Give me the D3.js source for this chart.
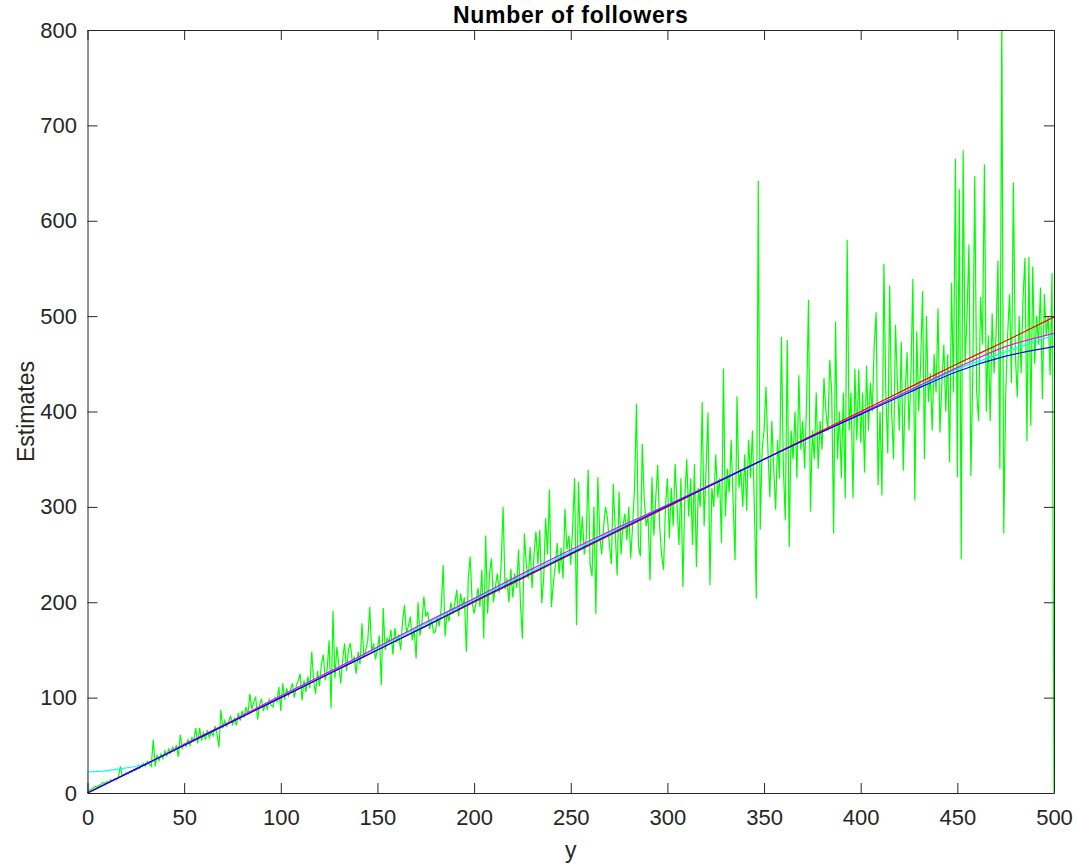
<!DOCTYPE html>
<html>
<head>
<meta charset="utf-8">
<script src="https://cdn.jsdelivr.net/npm/d3@7"></script>
<style>
  body { margin: 0; background: #ffffff; }
  text { font-family: "Liberation Sans", Arial, sans-serif; }
</style>
</head>
<body>
<div id="chart"></div>
<script>
// tick values
var xTicks = [0, 50, 100, 150, 200, 250, 300, 350, 400, 450, 500];
var yTicks = [0, 100, 200, 300, 400, 500, 600, 700, 800];

// green series, one estimate per y = 0..500
var followerEstimates = [
  0, 3, 4, 5, 7, 6, 8, 9, 11, 10,
  12, 11, 14, 13, 15, 14, 17, 28, 18, 19,
  21, 20, 23, 22, 25, 24, 27, 26, 29, 31,
  28, 33, 30, 28, 56, 28, 40, 34, 41, 36,
  44, 39, 46, 42, 48, 44, 50, 38, 61, 47,
  52, 49, 56, 50, 58, 55, 68, 52, 68, 55,
  63, 56, 66, 58, 64, 60, 70, 62, 48, 87,
  68, 76, 70, 74, 81, 72, 78, 71, 84, 76,
  86, 79, 90, 82, 104, 88, 95, 101, 77, 92,
  99, 86, 94, 88, 98, 92, 90, 100, 96, 111,
  86, 115, 98, 110, 102, 108, 115, 100, 112, 118,
  125, 97, 118, 106, 122, 110, 148, 118, 104, 128,
  112, 135, 145, 118, 130, 160, 89, 191, 120, 153,
  135, 115, 140, 157, 128, 150, 157, 138, 142, 125,
  148, 135, 178, 142, 150, 160, 195, 148, 157, 140,
  152, 165, 113, 194, 150, 162, 158, 171, 145, 173,
  158, 166, 150, 180, 197, 168, 175, 185, 160, 172,
  141, 200, 165, 178, 206, 185, 190, 172, 182, 168,
  169, 185, 175, 195, 239, 164, 190, 180, 200, 188,
  198, 213, 185, 209, 195, 205, 148, 225, 248, 200,
  188, 199, 215, 195, 234, 162, 270, 188, 230, 246,
  200, 216, 230, 210, 240, 300, 214, 225, 200, 235,
  205, 230, 215, 255, 198, 162, 272, 240, 225, 258,
  215, 250, 274, 240, 276, 199, 225, 288, 250, 318,
  195, 220, 239, 262, 230, 257, 225, 298, 255, 270,
  239, 280, 330, 176, 326, 260, 290, 250, 267, 339,
  240, 227, 300, 188, 331, 270, 250, 279, 300, 288,
  260, 240, 324, 275, 228, 316, 250, 280, 293, 265,
  300, 246, 280, 320, 408, 260, 248, 366, 309, 280,
  290, 223, 331, 270, 310, 344, 280, 250, 234, 300,
  330, 267, 320, 280, 345, 300, 260, 330, 216, 310,
  350, 290, 330, 260, 345, 237, 320, 300, 410, 280,
  340, 399, 218, 320, 300, 355, 310, 330, 262, 445,
  290, 340, 315, 370, 305, 244, 416, 320, 340, 300,
  355, 296, 370, 330, 380, 300, 204, 642, 276, 360,
  380, 426, 360, 310, 390, 340, 297, 370, 330, 478,
  340, 286, 475, 258, 380, 350, 400, 330, 438, 360,
  390, 340, 410, 517, 295, 380, 350, 420, 340, 390,
  360, 435, 400, 380, 454, 420, 272, 494, 350, 400,
  330, 420, 309, 580, 380, 420, 309, 445, 370, 444,
  367, 420, 336, 448, 380, 430, 400, 470, 504, 323,
  400, 312, 555, 420, 356, 532, 400, 350, 491, 430,
  380, 473, 338, 420, 462, 380, 440, 539, 307, 484,
  400, 450, 526, 350, 500, 410, 440, 380, 460, 420,
  508, 378, 430, 470, 400, 460, 347, 535, 420, 665,
  331, 633, 245, 674, 450, 500, 575, 332, 440, 647,
  420, 390, 520, 470, 659, 400, 480, 390, 503, 440,
  480, 558, 340, 820, 272, 417, 480, 523, 430, 640,
  460, 415, 500, 440, 520, 561, 369, 562, 385, 552,
  450, 500, 470, 530, 413, 523, 480, 500, 438, 545,
  0
];

// fitted curves
var fitX = [0, 25, 50, 75, 100, 125, 150, 175, 200, 225, 250, 275, 300, 325, 350, 375, 400, 425, 450, 475, 500];
var redFit = [0, 25, 50, 75, 100, 125, 150, 175, 200, 225, 250, 275, 300, 325, 350, 375, 400, 425, 450, 474, 499];
var magentaFit = [0, 25, 51, 76, 102, 127, 153, 179, 204, 230, 255, 279, 302, 326, 350, 374, 398, 422, 446, 468, 482];
var blueFit = [0, 25, 50, 75, 100, 125, 150, 175, 201, 226, 251, 276, 301, 325, 350, 374, 397, 420, 442, 458, 468];
var cyanX = [0, 0, 8, 16, 24, 30, 40, 50, 100, 150, 200, 250, 300, 350, 400, 450, 500];
var cyanY = [0, 22, 23, 25, 27.5, 30.5, 40, 50, 101, 152, 203, 253, 302, 350, 398, 445, 480];

var W = 1078, H = 867;
var margin = {left: 87.5, right: 24, top: 30, bottom: 74};
var width = W - margin.left - margin.right;
var height = H - margin.top - margin.bottom;
var axisColor = "#262626";

var svg = d3.select("#chart").append("svg").attr("width", W).attr("height", H);
var g = svg.append("g").attr("transform", "translate(" + margin.left + "," + margin.top + ")");

var x = d3.scaleLinear().domain([0, 500]).range([0, width]);
var y = d3.scaleLinear().domain([0, 800]).range([height, 0]);

g.append("clipPath").attr("id", "plot-clip")
  .append("rect").attr("width", width).attr("height", height);

var plot = g.append("g").attr("clip-path", "url(#plot-clip)");

var line = d3.line().x(function (d) { return x(d[0]); }).y(function (d) { return y(d[1]); });
var smooth = d3.line().x(function (d) { return x(d[0]); }).y(function (d) { return y(d[1]); }).curve(d3.curveMonotoneX);

plot.append("path")
  .attr("d", line(followerEstimates.map(function (v, i) { return [i, v]; })))
  .attr("fill", "none").attr("stroke", "#00ff00").attr("stroke-width", 1.2);

plot.append("path")
  .attr("d", line(cyanX.map(function (v, i) { return [v, cyanY[i]]; })))
  .attr("fill", "none").attr("stroke", "#00ffff").attr("stroke-width", 1.2);

var fits = [[redFit, "#ff0000"], [magentaFit, "#ff00ff"], [blueFit, "#0000ff"]];
fits.forEach(function (f) {
  plot.append("path")
    .attr("d", smooth(fitX.map(function (v, i) { return [v, f[0][i]]; })))
    .attr("fill", "none").attr("stroke", f[1]).attr("stroke-width", 1.2);
});

// axes, matlab style: ticks inside, box all round
var fmt = d3.format("d");
var xAxis = g.append("g").attr("transform", "translate(0," + height + ")")
  .call(d3.axisBottom(x).tickValues(xTicks).tickFormat(fmt).tickSizeInner(-10).tickSizeOuter(0).tickPadding(16));
var yAxis = g.append("g")
  .call(d3.axisLeft(y).tickValues(yTicks).tickFormat(fmt).tickSizeInner(-10).tickSizeOuter(0).tickPadding(10.5));
var xTop = g.append("g")
  .call(d3.axisTop(x).tickValues(xTicks).tickFormat("").tickSizeInner(-10).tickSizeOuter(0));
var yRight = g.append("g").attr("transform", "translate(" + width + ",0)")
  .call(d3.axisRight(y).tickValues(yTicks).tickFormat("").tickSizeInner(-10).tickSizeOuter(0));

[xAxis, yAxis, xTop, yRight].forEach(function (a) {
  a.selectAll("path, line").attr("stroke", axisColor).attr("stroke-width", 1);
  a.selectAll("text").attr("fill", axisColor).attr("font-size", 22)
    .attr("font-family", "Liberation Sans, Arial, sans-serif");
});

svg.append("text")
  .attr("x", margin.left + width / 2).attr("y", 23)
  .attr("text-anchor", "middle").attr("font-size", 23).attr("font-weight", "bold")
  .attr("letter-spacing", 0.7)
  .attr("fill", "#000").text("Number of followers");

svg.append("text")
  .attr("x", margin.left + width / 2).attr("y", 858)
  .attr("text-anchor", "middle").attr("font-size", 23)
  .attr("fill", axisColor).text("y");

svg.append("text")
  .attr("transform", "translate(34," + (margin.top + height / 2) + ") rotate(-90)")
  .attr("text-anchor", "middle").attr("font-size", 23)
  .attr("fill", axisColor).text("Estimates");
</script>
</body>
</html>
